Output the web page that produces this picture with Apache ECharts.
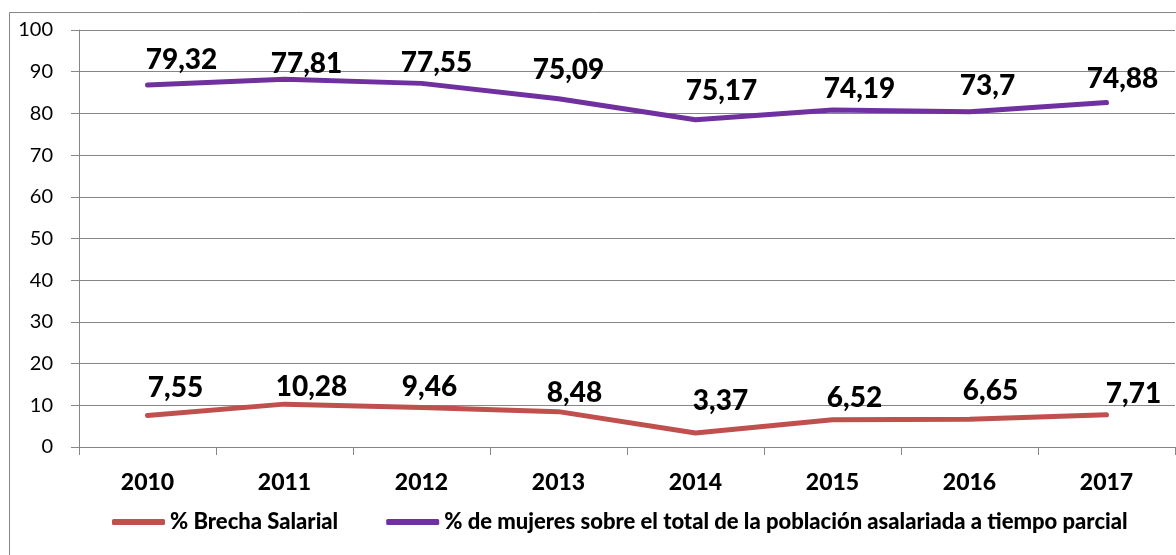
<!DOCTYPE html>
<html>
<head>
<meta charset="utf-8">
<script src="https://cdn.jsdelivr.net/npm/echarts@6/dist/echarts.min.js"></script>
<style>
html,body{margin:0;padding:0;background:#fff;}
#chart{width:1176px;height:555px;}
</style>
</head>
<body>
<div id="chart"></div>
<script>
// ---- data ----
var years = ['2010', '2011', '2012', '2013', '2014', '2015', '2016', '2017'];
var seriesNames = ['% Brecha Salarial', '% de mujeres sobre el total de la población asalariada a tiempo parcial'];
var brecha = [7.55, 10.28, 9.46, 8.48, 3.37, 6.52, 6.65, 7.71];
var mujeres = [86.8, 88.2, 87.2, 83.5, 78.5, 80.8, 80.4, 82.6];
var mujeresLabels = ['79,32', '77,81', '77,55', '75,09', '75,17', '74,19', '73,7', '74,88'];
var yMin = 0, yMax = 100, yStep = 10;

// ---- layout (label offsets from each point, px) ----
var brechaOffsets = [[28,-28],[27,-17],[8,-21],[16,-19],[25,-32],[22,-22],[21,-28],[27,-21]];
var mujeresOffsets = [[34,-25],[22,-15],[15,-20],[10,-29],[26,-29],[27,-21],[18,-26],[16,-24]];

var RED = '#C0504D', PURPLE = '#7030A0', GRID = '#868686';
var FONT = 'Lato';

function withOffsets(values, offsets) {
  return values.map(function (v, i) {
    return { value: v, label: { offset: offsets[i] } };
  });
}

var labelBase = {
  show: true,
  position: 'inside',
  align: 'center',
  verticalAlign: 'middle',
  color: '#000',
  fontFamily: FONT,
  fontWeight: 900,
  fontSize: 28
};

var chart = echarts.init(document.getElementById('chart'), null, { renderer: 'canvas' });
chart.setOption({
  animation: false,
  backgroundColor: '#fff',
  graphic: [{
    type: 'rect',
    shape: { x: 9.5, y: 12.5, width: 1400, height: 800 },
    style: { fill: 'none', stroke: GRID, lineWidth: 1 },
    silent: true,
    z: -1
  }],
  grid: { left: 79, right: 1, top: 30, bottom: 108, containLabel: false },
  legend: {
    bottom: 17,
    left: 107,
    itemGap: 48,
    itemWidth: 53,
    itemHeight: 6,
    icon: 'roundRect',
    textStyle: { fontFamily: FONT, fontWeight: 900, fontSize: 22, color: '#000' },
    data: seriesNames
  },
  xAxis: {
    type: 'category',
    data: years,
    boundaryGap: true,
    axisLine: { lineStyle: { color: GRID, width: 1 } },
    axisTick: { show: true, length: 8, interval: 0, lineStyle: { color: GRID } },
    axisLabel: { fontFamily: FONT, fontWeight: 900, fontSize: 23, color: '#000', margin: 24 }
  },
  yAxis: {
    type: 'value',
    min: yMin, max: yMax, interval: yStep,
    axisLine: { show: true, lineStyle: { color: GRID, width: 1 } },
    axisTick: { show: true, length: 8, lineStyle: { color: GRID } },
    splitLine: { show: true, lineStyle: { color: GRID, width: 1 } },
    axisLabel: { fontFamily: FONT, fontSize: 20, color: '#000', margin: 26 }
  },
  series: [
    {
      name: seriesNames[0],
      type: 'line',
      data: withOffsets(brecha, brechaOffsets),
      symbol: 'circle',
      symbolSize: 1,
      showSymbol: true,
      itemStyle: { color: RED },
      lineStyle: { color: RED, width: 5, cap: 'round', join: 'round' },
      label: Object.assign({}, labelBase, {
        formatter: function (p) { return String(brecha[p.dataIndex]).replace('.', ','); }
      })
    },
    {
      name: seriesNames[1],
      type: 'line',
      data: withOffsets(mujeres, mujeresOffsets),
      symbol: 'circle',
      symbolSize: 1,
      showSymbol: true,
      itemStyle: { color: PURPLE },
      lineStyle: { color: PURPLE, width: 5, cap: 'round', join: 'round' },
      label: Object.assign({}, labelBase, {
        formatter: function (p) { return mujeresLabels[p.dataIndex]; }
      })
    }
  ]
});
</script>
</body>
</html>
